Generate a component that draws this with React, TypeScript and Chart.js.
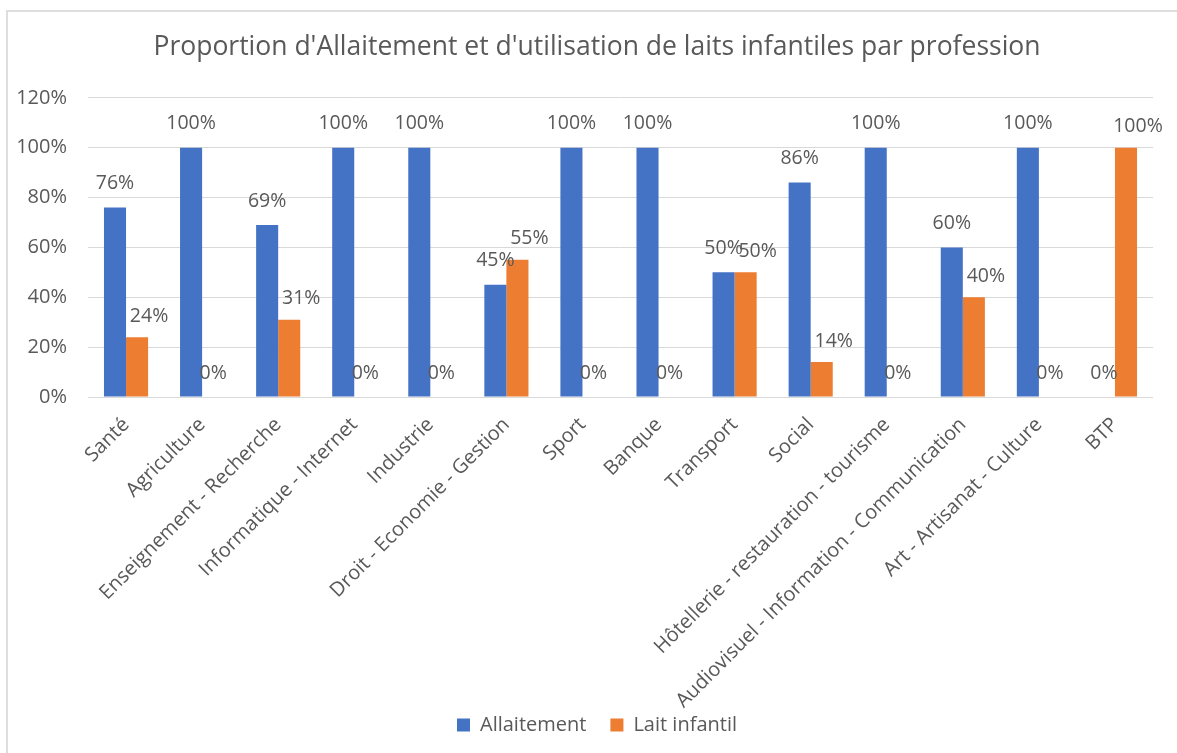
import React, { useEffect, useRef } from "react";
import { Chart, registerables } from "chart.js";

Chart.register(...registerables);

const categories = [
  "Santé",
  "Agriculture",
  "Enseignement - Recherche",
  "Informatique - Internet",
  "Industrie",
  "Droit - Economie - Gestion",
  "Sport",
  "Banque",
  "Transport",
  "Social",
  "Hôtellerie - restauration - tourisme",
  "Audiovisuel - Information - Communication",
  "Art - Artisanat - Culture",
  "BTP",
];
const allaitement = [76, 100, 69, 100, 100, 45, 100, 100, 50, 86, 100, 60, 100, 0];
const laitInfantil = [24, 0, 31, 0, 0, 55, 0, 0, 50, 14, 0, 40, 0, 100];
const yTicks = [0, 20, 40, 60, 80, 100, 120];

const TITLE = "Proportion d'Allaitement et d'utilisation de laits infantiles par profession";
const TEXT = "#595959";
const GRID = "#d9d9d9";
const FONT = "'Open Sans', 'Noto Sans', sans-serif";

const labelPlugin = {
  id: "barLabels",
  afterLayout(chart: any) {
    // let the rotated category labels run past the legend, as in the original
    const x = chart.scales.x;
    if (x) {
      x.bottom = chart.height;
      x.height = x.bottom - x.top;
    }
  },
  afterDatasetsDraw(chart: any) {
    const ctx = chart.ctx;
    ctx.save();
    ctx.font = `19.5px ${FONT}`;
    ctx.fillStyle = TEXT;
    ctx.textAlign = "center";
    ctx.textBaseline = "middle";
    chart.data.datasets.forEach((ds: any, di: number) => {
      const meta = chart.getDatasetMeta(di);
      meta.data.forEach((el: any, i: number) => {
        const v = ds.data[i];
        const shifted = di === 1 && v > 0;
        const dx = shifted ? 12 : 0;
        const dy = shifted ? 21 : 24;
        ctx.fillText(`${v}%`, el.x + dx, el.y - dy);
      });
    });
    ctx.restore();
  },
};

export default function App() {
  const ref = useRef<HTMLCanvasElement>(null);
  useEffect(() => {
    if (!ref.current) return;
    Chart.defaults.font.family = FONT;
    Chart.defaults.color = TEXT;
    const chart = new Chart(ref.current, {
      type: "bar",
      data: {
        labels: categories,
        datasets: [
          {
            label: "Allaitement",
            data: allaitement,
            backgroundColor: "#4472C4",
            categoryPercentage: 0.58,
            barPercentage: 1.0,
          },
          {
            label: "Lait infantil",
            data: laitInfantil,
            backgroundColor: "#ED7D31",
            categoryPercentage: 0.58,
            barPercentage: 1.0,
          },
        ],
      },
      options: {
        responsive: false,
        animation: false,
        layout: { padding: { left: 0, right: 0, top: 0, bottom: 8 } },
        plugins: {
          title: {
            display: true,
            text: TITLE,
            color: TEXT,
            font: { size: 26.5, weight: "normal", family: FONT },
            padding: { top: 32, bottom: 34 },
          },
          legend: {
            position: "bottom",
            labels: {
              boxWidth: 13,
              boxHeight: 13,
              padding: 24,
              color: TEXT,
              font: { size: 20, family: FONT },
            },
          },
          tooltip: { enabled: false },
        },
        scales: {
          x: {
            grid: { display: false },
            border: { display: false },
            ticks: {
              minRotation: 45,
              maxRotation: 45,
              padding: 8,
              color: TEXT,
              font: { size: 20, family: FONT },
              autoSkip: false,
            },
            afterFit: (s: any) => {
              s.height = 294;
            },
          },
          y: {
            min: 0,
            max: 120,
            afterBuildTicks: (s: any) => {
              s.ticks = yTicks.map((v) => ({ value: v }));
            },
            grid: { color: GRID, lineWidth: 1, drawTicks: false },
            border: { display: false },
            ticks: {
              padding: 21,
              color: TEXT,
              font: { size: 20, family: FONT },
              callback: (v: any) => `${v}%`,
            },
            afterFit: (s: any) => {
              s.width = 88;
            },
          },
          yRight: {
            position: "right",
            display: true,
            grid: { display: false },
            border: { display: false },
            ticks: { display: false },
            afterFit: (s: any) => {
              s.width = 41;
            },
          },
        },
      },
      plugins: [labelPlugin],
    });
    return () => chart.destroy();
  }, []);

  return (
    <div
      style={{
        position: "absolute",
        left: 0,
        top: 0,
        width: 1177,
        height: 753,
        overflow: "hidden",
        background: "#fff",
      }}
    >
      <div
        style={{
          position: "absolute",
          left: 6,
          top: 10,
          width: 1300,
          height: 900,
          borderLeft: "2px solid #dedede",
          borderTop: "2px solid #dedede",
          pointerEvents: "none",
        }}
      />
      <canvas
        ref={ref}
        width={1194}
        height={753}
        style={{ position: "absolute", left: 0, top: 0, width: 1194, height: 753 }}
      />
    </div>
  );
}
